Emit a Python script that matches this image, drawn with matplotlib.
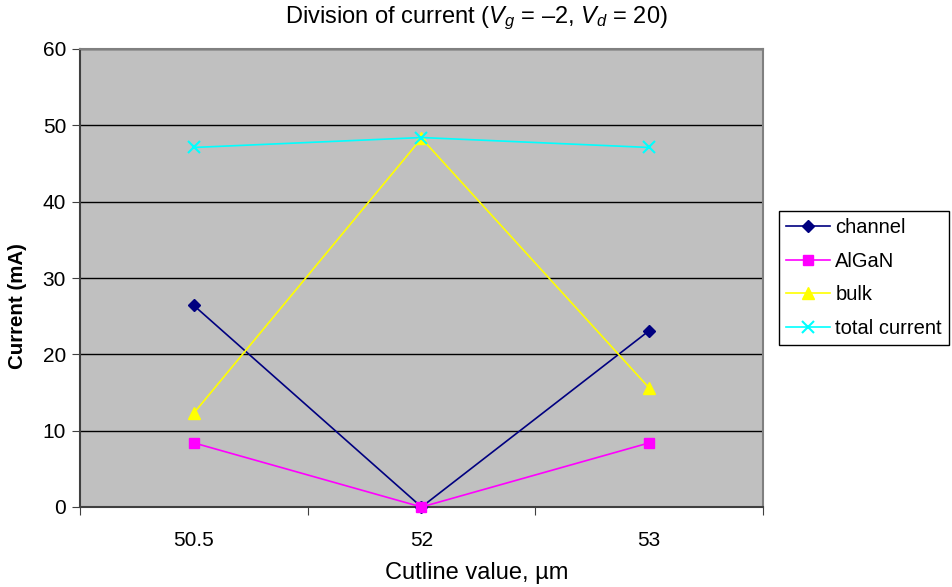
import matplotlib
matplotlib.use("Agg")
import matplotlib.pyplot as plt

plt.rcParams['font.family'] = ['Liberation Sans', 'DejaVu Sans']
plt.rcParams['mathtext.fontset'] = 'custom'
plt.rcParams['mathtext.rm'] = 'Liberation Sans'
plt.rcParams['mathtext.it'] = 'Liberation Sans:italic'

# Cutline positions (µm) and current components (mA)
cutlines = ["50.5", "52", "53"]
channel = [26.4, 0.0, 23.1]
algan = [8.4, 0.0, 8.4]
bulk = [12.3, 48.3, 15.6]
total_current = [47.1, 48.4, 47.1]

fig = plt.figure(figsize=(9.53, 5.87), dpi=100)
W, H = 953, 587
left, right, top, bottom = 80, 763, 49, 507
ax = fig.add_axes([left / W, (H - bottom) / H, (right - left) / W, (bottom - top) / H])
ax.set_facecolor('#C0C0C0')

x = list(range(len(cutlines)))
ax.plot(x, channel, color='#000080', marker='D', markersize=6, lw=1.2, label='channel', clip_on=False, zorder=4)
ax.plot(x, algan, color='#FF00FF', marker='s', markersize=7, lw=1.2, label='AlGaN', clip_on=False, zorder=4)
ax.plot(x, bulk, color='#FFFF00', marker='^', markersize=8, lw=1.2, label='bulk', clip_on=False, zorder=4)
ax.plot(x, total_current, color='#00FFFF', marker='x', markersize=8, mew=1.5, lw=1.2, label='total current', clip_on=False, zorder=4)

ax.set_xlim(-0.5, len(cutlines) - 0.5)
ax.set_ylim(0, 60)
ax.set_yticks(range(0, 61, 10))
ax.yaxis.grid(True, color='black', lw=1)
ax.set_axisbelow(True)

# category axis: boundary ticks, centred labels
ax.set_xticks([i - 0.5 for i in range(len(cutlines) + 1)])
ax.set_xticklabels([])
ax.set_xticks(x, minor=True)
ax.set_xticklabels(cutlines, minor=True)
ax.tick_params(axis='x', which='minor', length=0, pad=17, labelsize=15)
ax.tick_params(axis='x', which='major', length=6, direction='out', color='#404040')
ax.tick_params(axis='y', length=6, direction='out', color='#404040', labelsize=15, pad=4)

for s in ['left', 'bottom']:
    ax.spines[s].set_color('#404040')
    ax.spines[s].set_linewidth(1.5)
for s in ['top', 'right']:
    ax.spines[s].set_color('#808080')
    ax.spines[s].set_linewidth(1.5)

# chart title and axis titles centred on the chart area
fig.text(0.5, 1 - 18 / H, r'Division of current ($V_g$ = –2, $V_d$ = 20)',
         fontsize=17, ha='center', va='center')
fig.text(0.5, 1 - 573 / H, 'Cutline value, µm', fontsize=17, ha='center', va='center')
fig.text(18 / W, 1 - 306 / H, 'Current (mA)', fontsize=14.8, fontweight='bold',
         rotation=90, ha='center', va='center')

leg = ax.legend(loc='upper left', bbox_to_anchor=(779 / W, (H - 211) / H),
                bbox_transform=fig.transFigure, fontsize=14.5,
                frameon=True, fancybox=False, edgecolor='black', framealpha=1,
                handlelength=2.2, borderpad=0.35, labelspacing=0.72, handletextpad=0.25,
                borderaxespad=0)
leg.get_frame().set_linewidth(1)

fig.savefig('out.png', dpi=100)
